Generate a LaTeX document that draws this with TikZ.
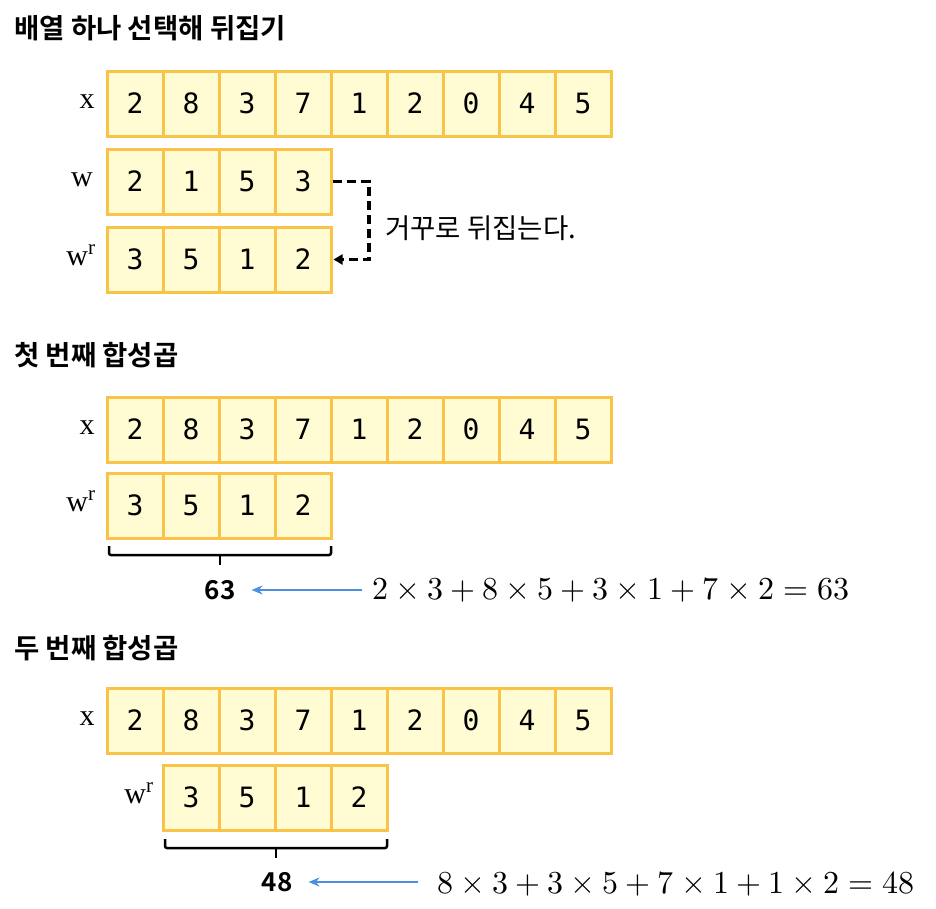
\documentclass[tikz,border=0pt]{standalone}
\usepackage{fontspec}
\usepackage{unicode-math}
\setmathfont{Latin Modern Math}
\usetikzlibrary{arrows.meta}
\newfontfamily\kr{Noto Sans CJK KR}
\newfontfamily\krb{Noto Sans CJK KR Bold}
\newfontfamily\mono{DejaVu Sans Mono}
\newfontfamily\lblfont{Liberation Serif}
\definecolor{cellborder}{RGB}{249,194,72}
\definecolor{cellfill}{RGB}{255,252,212}
\definecolor{arrowblue}{RGB}{74,144,226}
\begin{document}
\begin{tikzpicture}[x=1pt,y=-1pt,
  cell/.style={draw=cellborder, fill=cellfill, line width=3pt, minimum width=56pt, minimum height=65pt, inner sep=0pt, font=\mono\fontsize{28}{28}\selectfont},
  title/.style={anchor=west, inner sep=0pt, font=\krb\fontsize{27.5}{27.5}\selectfont},
  lbl/.style={inner sep=0pt, font=\lblfont\fontsize{30}{30}\selectfont},
  note/.style={anchor=west, inner sep=0pt, font=\kr\fontsize{27.5}{27.5}\selectfont},
  res/.style={inner sep=0pt, font=\krb\fontsize{26}{26}\selectfont},
  eq/.style={anchor=west, inner sep=0pt, font=\fontsize{32}{32}\selectfont},
  brace/.style={line width=2.5pt, rounded corners=2pt},
  blue arrow/.style={draw=arrowblue, line width=1.5pt, -{Stealth[length=11pt,width=9pt]}},
  dash arrow/.style={line width=3.2pt, dash pattern=on 9pt off 5pt, -{Triangle[length=9pt,width=10pt]}}
]
\useasboundingbox (0,0) rectangle (936,908);

% Section 1
\node[title] (t1) at (14,28) {배열 하나 선택해 뒤집기};
\foreach \v [count=\i] in {2,8,3,7,1,2,0,4,5}
  \node[cell] (a\i) at ({135+56*(\i-1)},103.5) {\v};
\foreach \v [count=\i] in {2,1,5,3}
  \node[cell] (w\i) at ({135+56*(\i-1)},181.5) {\v};
\foreach \v [count=\i] in {3,5,1,2}
  \node[cell] (r\i) at ({135+56*(\i-1)},259.5) {\v};
\node[lbl] (lx1) at (87,102) {x};
\node[lbl] (lw1) at (82,180) {w};
\node[lbl] (lr1) at (81,255) {w\textsuperscript{r}};
\coordinate (turn) at (369,181.5);
\draw[dash arrow] (w4.east) -- (turn) |- ([xshift=1pt]r4.east);
\node[note] (n1) at (385,228) {거꾸로 뒤집는다.};

% Section 2
\node[title] (t2) at (14,355) {첫 번째 합성곱};
\foreach \v [count=\i] in {2,8,3,7,1,2,0,4,5}
  \node[cell] (b\i) at ({135+56*(\i-1)},429.5) {\v};
\foreach \v [count=\i] in {3,5,1,2}
  \node[cell] (p\i) at ({135+56*(\i-1)},505.5) {\v};
\node[lbl] (lx2) at (87,428) {x};
\node[lbl] (lr2) at (81,501) {w\textsuperscript{r}};
\draw[brace] (109,546) -- ++(0,9) -- ++(222,0) -- ++(0,-9);
\draw[brace] (220,555) -- ++(0,10);
\node[res] (s2) at (220,590) {63};
\node[eq] (e2) at (372,590) {$2\times3+8\times5+3\times1+7\times2=63$};
\draw[blue arrow] ([xshift=-10pt]e2.west |- s2.east) -- ([xshift=16pt]s2.east);

% Section 3
\node[title] (t3) at (14,648) {두 번째 합성곱};
\foreach \v [count=\i] in {2,8,3,7,1,2,0,4,5}
  \node[cell] (c\i) at ({135+56*(\i-1)},720.5) {\v};
\foreach \v [count=\i] in {3,5,1,2}
  \node[cell] (q\i) at ({191+56*(\i-1)},797.5) {\v};
\node[lbl] (lx3) at (87,719) {x};
\node[lbl] (lr3) at (139,793) {w\textsuperscript{r}};
\draw[brace] (165,839) -- ++(0,9) -- ++(222,0) -- ++(0,-9);
\draw[brace] (276,848) -- ++(0,10);
\node[res] (s3) at (277,882) {48};
\node[eq] (e3) at (437,884) {$8\times3+3\times5+7\times1+1\times2=48$};
\draw[blue arrow] ([xshift=-19pt]e3.west |- s3.east) -- ([xshift=16pt]s3.east);
\end{tikzpicture}
\end{document}
